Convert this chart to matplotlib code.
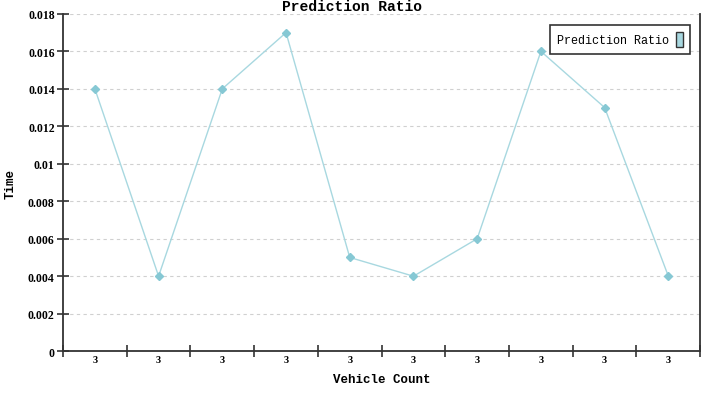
import numpy as np
import matplotlib.pyplot as plt
from matplotlib.patches import Patch

categories = ["3", "3", "3", "3", "3", "3", "3", "3", "3", "3"]
ratio = [0.014, 0.004, 0.014, 0.017, 0.005, 0.004, 0.006, 0.016, 0.013, 0.004]
yticks = [0, 0.002, 0.004, 0.006, 0.008, 0.01, 0.012, 0.014, 0.016, 0.018]
ytick_labels = ["0", "0.002", "0.004", "0.006", "0.008", "0.01", "0.012", "0.014", "0.016", "0.018"]

fig = plt.figure(figsize=(7.08, 4.02), dpi=100)
ax = fig.add_axes([0.089, 0.124, 0.900, 0.839])

x = np.arange(len(ratio)) + 0.5
ax.plot(x, ratio, color="#a8d8e0", lw=1.0, marker="D", ms=4,
        mfc="#86c8d4", mec="#86c8d4", zorder=3)

ax.set_xlim(0, len(ratio))
ax.set_ylim(0, 0.018)
ax.set_yticks(yticks)
ax.set_yticklabels(ytick_labels, fontfamily="Liberation Serif", fontweight="bold", fontsize=8.5)
ax.set_xticks(np.arange(len(ratio) + 1))
ax.set_xticklabels([])
ax.set_xticks(x, minor=True)
ax.set_xticklabels(categories, minor=True, fontfamily="Liberation Serif",
                   fontweight="bold", fontsize=7.5)
ax.tick_params(axis="x", which="minor", length=0, pad=3)
ax.tick_params(axis="both", which="major", direction="inout", length=8, width=1.2, color="#333333")
ax.tick_params(axis="y", pad=2)

ax.yaxis.grid(True, ls=(0, (3, 3)), color="#d0d0d0", lw=0.8)
ax.set_axisbelow(True)
ax.spines["top"].set_visible(False)
for s in ["left", "bottom", "right"]:
    ax.spines[s].set_color("#333333")
    ax.spines[s].set_linewidth(1.3)

ax.set_xlabel("Vehicle Count", fontfamily="Liberation Mono", fontweight="bold", fontsize=9, labelpad=6)
ax.set_ylabel("Time", fontfamily="Liberation Mono", fontweight="bold", fontsize=9, labelpad=8)
fig.text(0.497, 0.999, "Prediction Ratio", ha="center", va="top",
         fontfamily="Liberation Mono", fontweight="bold", fontsize=10.5)

handle = Patch(facecolor="#a8d8e0", edgecolor="#333333", lw=1)
leg = ax.legend([handle], ["Prediction Ratio"], loc="upper right", markerfirst=False,
                handlelength=0.6, handleheight=1.6, fancybox=False, framealpha=1,
                edgecolor="#333333", prop={"family": "Liberation Mono", "size": 8.5},
                bbox_to_anchor=(0.993, 0.985), borderpad=0.6, handletextpad=0.6)
leg.get_frame().set_linewidth(1.2)

plt.savefig("out.png", dpi=100)
